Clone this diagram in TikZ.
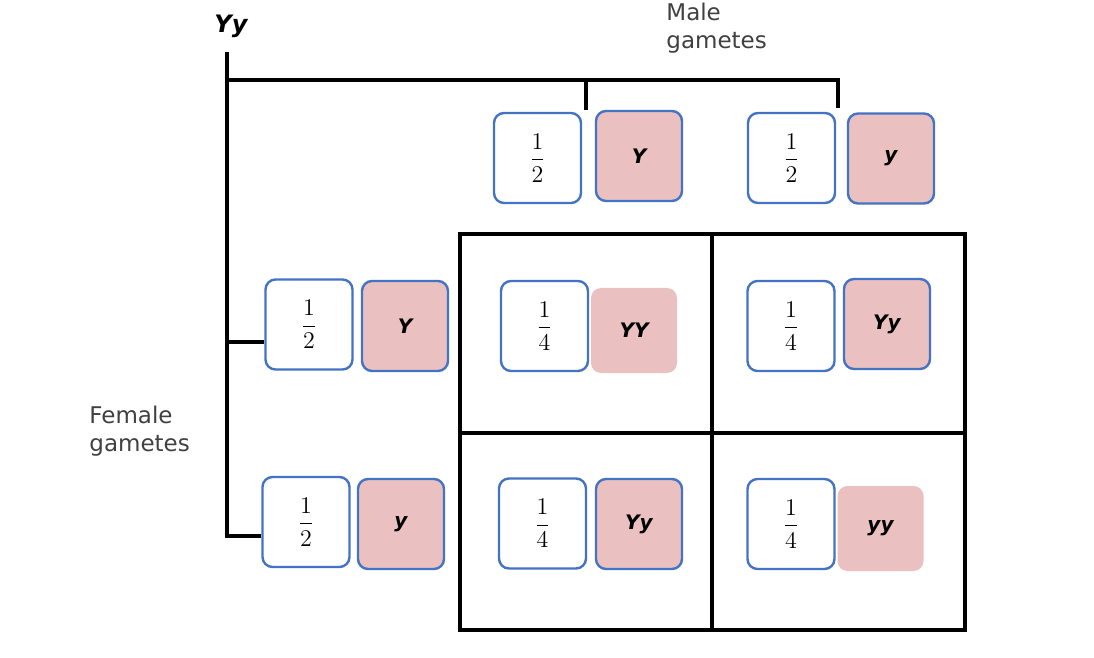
\documentclass[tikz,border=0pt]{standalone}
\usepackage{fontspec}
\setmainfont{DejaVu Sans}
\usetikzlibrary{positioning}
\definecolor{boxblue}{RGB}{68,114,196}
\definecolor{gpink}{RGB}{234,193,192}
\newcommand{\fr}[2]{$\displaystyle\frac{#1}{#2}$}
\tikzset{
  fracbox/.style={draw=boxblue, line width=1.2pt, fill=white, rounded corners=5pt, minimum width=43.5pt, minimum height=45pt, inner sep=0pt, font=\fontsize{12.5}{14}\selectfont},
  genebox/.style={draw=boxblue, line width=1.2pt, fill=gpink, rounded corners=5pt, minimum width=43pt, minimum height=45pt, inner sep=0pt, font=\fontsize{10}{12}\selectfont\bfseries\itshape},
  geneplain/.style={fill=gpink, rounded corners=5pt, minimum width=43pt, minimum height=42.5pt, inner sep=0pt, font=\fontsize{10}{12}\selectfont\bfseries\itshape},
  tree/.style={line width=2.1pt, black},
  grid/.style={line width=2.1pt, black},
  caption/.style={font=\fontsize{11.5}{14}\selectfont, text=black!75, align=left, inner sep=0pt}
}
\begin{document}
\begin{tikzpicture}[x=0.5pt,y=-0.5pt]
\useasboundingbox (0,0) rectangle (1094,658);
% grid
\draw[grid] (460,234) rectangle (965,630);
\draw[grid] (712,234) -- (712,630);
\draw[grid] (460,433) -- (965,433);
% labels
\node[font=\fontsize{12}{14}\selectfont\bfseries\itshape] (pg) at (231,26) {Yy};
\node[caption, anchor=north west] (male) at (666,3) {Male\\gametes};
\node[caption, anchor=north west] (female) at (89,406) {Female\\gametes};
% male gametes
\node[fracbox] (m1f) at (537.5,158) {\fr12};
\node[genebox] (m1g) at (639,156) {Y};
\node[fracbox] (m2f) at (791.5,158) {\fr12};
\node[genebox] (m2g) at (891,158.5) {y};
% female gametes
\node[fracbox] (f1f) at (309,324.5) {\fr12};
\node[genebox] (f1g) at (405,326) {Y};
\node[fracbox] (f2f) at (306,522) {\fr12};
\node[genebox] (f2g) at (401,524) {y};
% cells
\node[fracbox] (c11f) at (544.5,326) {\fr14};
\node[geneplain] (c11g) at (634,330.5) {YY};
\node[fracbox] (c12f) at (791,326) {\fr14};
\node[genebox] (c12g) at (887,324) {Yy};
\node[fracbox] (c21f) at (542.5,523.5) {\fr14};
\node[genebox] (c21g) at (639,524) {Yy};
\node[fracbox] (c22f) at (791,524) {\fr14};
\node[geneplain] (c22g) at (880.5,528.5) {yy};
% tree
\coordinate (top) at (227,52);
\coordinate (corner) at (227,80);
\coordinate (tm1) at (586,110);
\coordinate (tm2) at (838,108);
\draw[tree] (top) -- (227,536) -- (f2f.west |- 227,536);
\draw[tree] (227,342) -- (f1f.west |- 227,342);
\draw[tree] (corner) -- (838,80) -- (tm2);
\draw[tree] (586,80) -- (tm1);
\end{tikzpicture}
\end{document}
